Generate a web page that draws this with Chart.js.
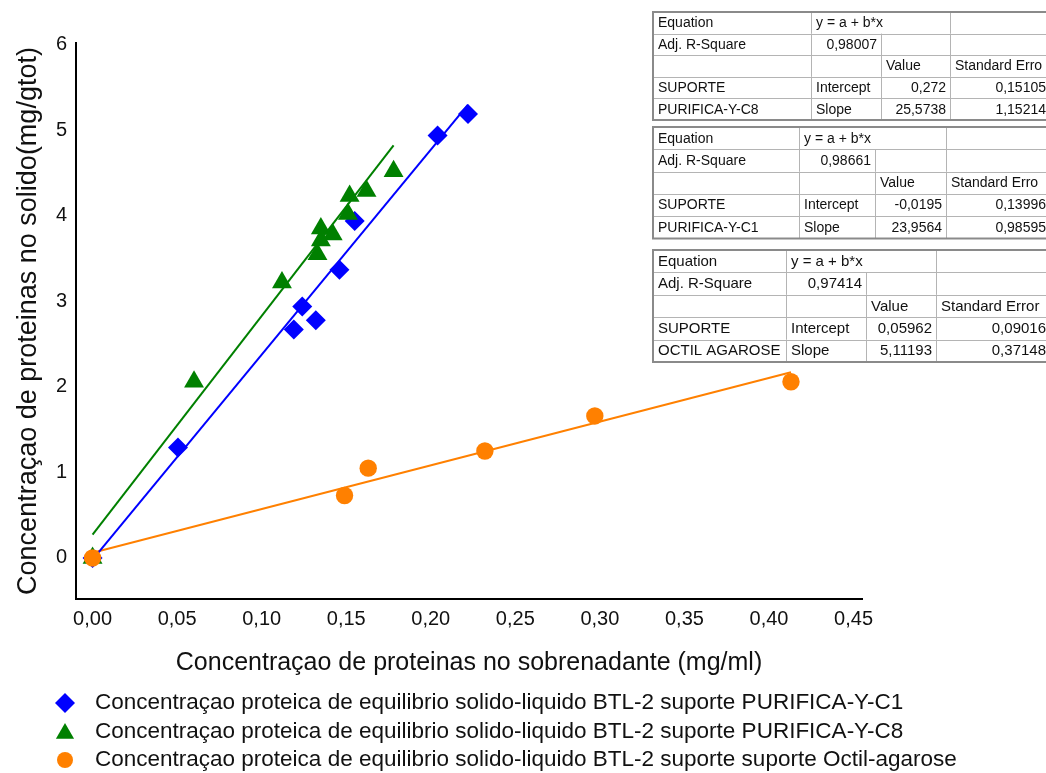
<!DOCTYPE html>
<html>
<head>
<meta charset="utf-8">
<script src="https://cdn.jsdelivr.net/npm/chart.js@4.4.1/dist/chart.umd.min.js"></script>
<style>
  html, body { margin: 0; padding: 0; background: #ffffff; }
  canvas { display: block; }
</style>
</head>
<body>
<canvas id="chart" width="1046" height="773"></canvas>
<script>
// ---- data: protein concentration in supernatant (x) vs on solid (y) ----
const seriesLabels = [
  'Concentraçao proteica de equilibrio solido-liquido BTL-2 suporte PURIFICA-Y-C1',
  'Concentraçao proteica de equilibrio solido-liquido BTL-2 suporte PURIFICA-Y-C8',
  'Concentraçao proteica de equilibrio solido-liquido BTL-2 suporte suporte Octil-agarose'
];
const c1X  = [0, 0.0505, 0.119, 0.124, 0.132, 0.146, 0.155, 0.204, 0.222];
const c1Y  = [0, 1.29,   2.67,  2.94,  2.78,  3.37,  3.94,  4.94,  5.19];
const c8X  = [0, 0.060, 0.112, 0.133, 0.135, 0.135, 0.142, 0.151, 0.152, 0.162, 0.178];
const c8Y  = [0, 2.06,  3.22,  3.55,  3.71,  3.85,  3.78,  4.02,  4.23,  4.29,  4.52];
const octX = [0, 0.149, 0.163, 0.232, 0.297, 0.413];
const octY = [0, 0.73,  1.05,  1.25,  1.66,  2.06];

// ---- linear fit results (y = a + b*x), tables listed top to bottom ----
const fitNames        = ['PURIFICA-Y-C8', 'PURIFICA-Y-C1', 'OCTIL AGAROSE'];
const fitAdjR2        = [0.98007, 0.98661, 0.97414];
const fitIntercept    = [0.272, -0.0195, 0.05962];
const fitInterceptErr = [0.15105, 0.13996, 0.09016];
const fitSlope        = [25.5738, 23.9564, 5.11193];
const fitSlopeErr     = [1.15214, 0.98595, 0.37148];
const errHeaders      = ['Standard Erro', 'Standard Erro', 'Standard Error'];

// ---- axis ticks ----
const xTicks = [0, 0.05, 0.10, 0.15, 0.20, 0.25, 0.30, 0.35, 0.40, 0.45];
const yTicks = [0, 1, 2, 3, 4, 5, 6];

const FONT = "'Liberation Sans', Arial, Helvetica, sans-serif";
const BLUE = '#0000ff', GREEN = '#008000', ORANGE = '#ff8000';

const toPoints = (xs, ys) => xs.map((x, i) => ({ x, y: ys[i] }));
const comma = v => String(v).replace('.', ',');

// fitted straight line spanning the x range of a series
function fitLine(xs, a, b) {
  const lo = Math.min(...xs), hi = Math.max(...xs);
  return [{ x: lo, y: a + b * lo }, { x: hi, y: a + b * hi }];
}

// white page background
const background = {
  id: 'background',
  beforeDraw(chart) {
    const { ctx, width, height } = chart;
    ctx.save();
    ctx.fillStyle = '#ffffff';
    ctx.fillRect(0, 0, width, height);
    ctx.restore();
  }
};

// fit-statistics tables in the upper right
const tableLayout = [
  { top: 12,  rowH: 21.6, cols: [653, 811, 881, 950, 1050], size: 14 },
  { top: 127, rowH: 22.3, cols: [653, 799, 875, 946, 1050], size: 14 },
  { top: 250, rowH: 22.4, cols: [653, 786, 866, 936, 1050], size: 15 }
];

const fitTables = {
  id: 'fitTables',
  afterDraw(chart) {
    const ctx = chart.ctx;
    tableLayout.forEach((t, k) => {
      const rows = [
        [['Equation', 'l'], ['y = a + b*x', 'l'], null, ['', 'l']],
        [['Adj. R-Square', 'l'], [comma(fitAdjR2[k]), 'r'], ['', 'l'], ['', 'l']],
        [['', 'l'], ['', 'l'], ['Value', 'l'], [errHeaders[k], 'l']],
        [['SUPORTE', 'l'], ['Intercept', 'l'], [comma(fitIntercept[k]), 'r'], [comma(fitInterceptErr[k]), 'r']],
        [[fitNames[k], 'l'], ['Slope', 'l'], [comma(fitSlope[k]), 'r'], [comma(fitSlopeErr[k]), 'r']]
      ];
      const left = t.cols[0], right = t.cols[t.cols.length - 1];
      const bottom = t.top + t.rowH * rows.length;
      ctx.save();
      ctx.fillStyle = '#ffffff';
      ctx.fillRect(left, t.top, right - left, bottom - t.top);

      // inner grid
      ctx.strokeStyle = '#b4b4b4';
      ctx.lineWidth = 1;
      ctx.beginPath();
      for (let r = 1; r < rows.length; r++) {
        const y = Math.round(t.top + r * t.rowH) + 0.5;
        ctx.moveTo(left, y); ctx.lineTo(right, y);
      }
      rows.forEach((row, r) => {
        const y0 = t.top + r * t.rowH, y1 = y0 + t.rowH;
        for (let c = 1; c < t.cols.length - 1; c++) {
          if (row[c] === null) continue;
          const x = Math.round(t.cols[c]) + 0.5;
          ctx.moveTo(x, y0); ctx.lineTo(x, y1);
        }
      });
      ctx.stroke();

      // outer frame
      ctx.strokeStyle = '#8a8a8a';
      ctx.lineWidth = 2;
      ctx.strokeRect(left, t.top, right - left, bottom - t.top);

      // cell text
      ctx.fillStyle = '#111111';
      ctx.font = t.size + 'px ' + FONT;
      ctx.textBaseline = 'middle';
      rows.forEach((row, r) => {
        const yc = t.top + (r + 0.5) * t.rowH + 0.5;
        row.forEach((cell, c) => {
          if (!cell || !cell[0]) return;
          if (cell[1] === 'r') {
            ctx.textAlign = 'right';
            ctx.fillText(cell[0], t.cols[c + 1] - 4, yc);
          } else {
            ctx.textAlign = 'left';
            ctx.fillText(cell[0], t.cols[c] + 5, yc);
          }
        });
      });
      ctx.restore();
    });
  }
};

// legend below the axis title, one series per line
const legendPos = { markerX: 65, textX: 95, top: 703, step: 28.5, size: 22.5 };
const legendRadius = [10, 10.5, 8];
const seriesLegend = {
  id: 'seriesLegend',
  afterDraw(chart) {
    const ctx = chart.ctx;
    chart.data.datasets.slice(0, 3).forEach((ds, i) => {
      const y = legendPos.top + i * legendPos.step;
      ctx.save();
      ctx.fillStyle = ds.backgroundColor;
      ctx.strokeStyle = ds.backgroundColor;
      Chart.helpers.drawPoint(ctx, {
        pointStyle: ds.pointStyle, radius: legendRadius[i], rotation: 0, borderWidth: 0
      }, legendPos.markerX, y + (ds.pointStyle === 'triangle' ? 2 : 0));
      ctx.fillStyle = '#111111';
      ctx.font = legendPos.size + 'px ' + FONT;
      ctx.textBaseline = 'middle';
      ctx.textAlign = 'left';
      ctx.fillText(ds.label, legendPos.textX, y);
      ctx.restore();
    });
  }
};

Chart.defaults.font.family = FONT;
Chart.defaults.color = '#111111';

new Chart(document.getElementById('chart'), {
  type: 'scatter',
  data: {
    datasets: [
      { label: seriesLabels[0], data: toPoints(c1X, c1Y), pointStyle: 'rectRot', pointRadius: 10,
        backgroundColor: BLUE, borderColor: BLUE, borderWidth: 0, order: 3 },
      { label: seriesLabels[1], data: toPoints(c8X, c8Y), pointStyle: 'triangle', pointRadius: 11.5,
        backgroundColor: GREEN, borderColor: GREEN, borderWidth: 0, order: 2 },
      { label: seriesLabels[2], data: toPoints(octX, octY), pointStyle: 'circle', pointRadius: 8.7,
        backgroundColor: ORANGE, borderColor: ORANGE, borderWidth: 0, order: 1 },
      { label: 'fit C1', data: fitLine(c1X, fitIntercept[1], fitSlope[1]), showLine: true,
        pointRadius: 0, borderColor: BLUE, borderWidth: 2, order: 10 },
      { label: 'fit C8', data: fitLine(c8X, fitIntercept[0], fitSlope[0]), showLine: true,
        pointRadius: 0, borderColor: GREEN, borderWidth: 2, order: 10 },
      { label: 'fit octil', data: fitLine(octX, fitIntercept[2], fitSlope[2]), showLine: true,
        pointRadius: 0, borderColor: ORANGE, borderWidth: 2, order: 10 }
    ]
  },
  options: {
    responsive: false,
    devicePixelRatio: 1,
    animation: false,
    events: [],
    layout: { padding: { left: 0, right: 184, top: 43, bottom: 95 } },
    plugins: {
      legend: { display: false },
      tooltip: { enabled: false }
    },
    scales: {
      x: {
        type: 'linear',
        min: -0.0098,
        max: 0.455,
        afterBuildTicks: s => { s.ticks = xTicks.map(v => ({ value: v })); },
        afterFit: s => { s.height = 79; },
        ticks: {
          callback: v => Number(v).toFixed(2).replace('.', ','),
          font: { size: 20 }, color: '#111111', padding: 8, maxRotation: 0, autoSkip: false
        },
        grid: { display: false, drawTicks: false },
        border: { display: true, color: '#000000', width: 2 },
        title: {
          display: true,
          text: 'Concentraçao de proteinas no sobrenadante (mg/ml)',
          font: { size: 25 }, color: '#111111', padding: { top: 0, bottom: 0 }
        }
      },
      y: {
        type: 'linear',
        min: -0.48,
        max: 6.02,
        afterBuildTicks: s => { s.ticks = yTicks.map(v => ({ value: v })); },
        afterFit: s => { s.width = 76; },
        ticks: {
          callback: v => String(v),
          font: { size: 20 }, color: '#111111', padding: 9
        },
        grid: { display: false, drawTicks: false },
        border: { display: true, color: '#000000', width: 2 },
        title: {
          display: true,
          text: 'Concentraçao de proteinas no solido(mg/gtot)',
          font: { size: 27 }, color: '#111111', padding: { top: 12, bottom: 0 }
        }
      }
    }
  },
  plugins: [background, fitTables, seriesLegend]
});
</script>
</body>
</html>
